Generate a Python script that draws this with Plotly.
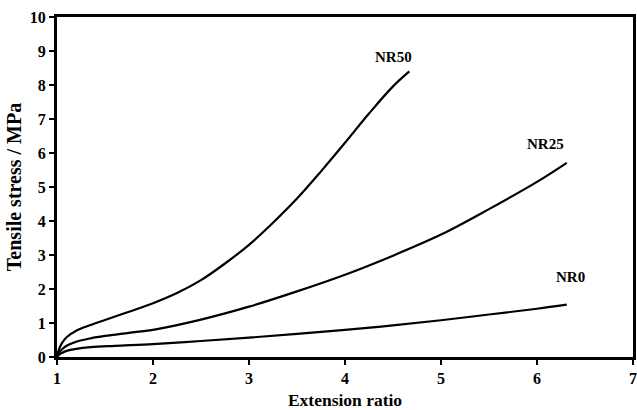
import plotly.graph_objects as go

nr50_x = [1.00, 1.02, 1.05, 1.10, 1.20, 1.35, 1.50, 1.75, 2.00, 2.25, 2.50, 2.75, 3.00, 3.25, 3.50, 3.75, 4.00, 4.25, 4.50, 4.67]
nr50_y = [0.00, 0.22, 0.40, 0.58, 0.77, 0.94, 1.09, 1.33, 1.58, 1.88, 2.26, 2.75, 3.30, 3.95, 4.66, 5.46, 6.30, 7.16, 7.96, 8.40]

nr25_x = [1.00, 1.02, 1.05, 1.10, 1.20, 1.35, 1.50, 1.75, 2.00, 2.50, 3.00, 3.50, 4.00, 4.50, 5.00, 5.50, 6.00, 6.31]
nr25_y = [0.00, 0.12, 0.22, 0.33, 0.45, 0.55, 0.62, 0.71, 0.80, 1.10, 1.48, 1.93, 2.42, 2.98, 3.60, 4.35, 5.15, 5.71]

nr0_x = [1.00, 1.02, 1.05, 1.10, 1.20, 1.35, 1.60, 2.00, 2.50, 3.00, 3.50, 4.00, 4.50, 5.00, 5.50, 6.00, 6.31]
nr0_y = [0.00, 0.06, 0.12, 0.18, 0.24, 0.29, 0.33, 0.38, 0.47, 0.57, 0.68, 0.80, 0.93, 1.08, 1.25, 1.42, 1.54]

x_ticks = [1, 2, 3, 4, 5, 6, 7]
y_ticks = [0, 1, 2, 3, 4, 5, 6, 7, 8, 9, 10]

labels = ["NR50", "NR25", "NR0"]
label_x = [4.50, 6.09, 6.35]
label_y = [8.81, 6.27, 2.36]

FONT = "Liberation Serif, Times New Roman, serif"

fig = go.Figure()
for xs, ys in [(nr50_x, nr50_y), (nr25_x, nr25_y), (nr0_x, nr0_y)]:
    fig.add_trace(go.Scatter(x=xs, y=ys, mode="lines",
                             line=dict(color="black", width=2.2, shape="spline", smoothing=1.0),
                             showlegend=False, hoverinfo="skip"))

for t, lx, ly in zip(labels, label_x, label_y):
    fig.add_annotation(x=lx, y=ly, text="<b>" + t + "</b>", showarrow=False,
                       font=dict(family=FONT, size=15, color="black"))

fig.update_layout(
    width=637, height=410,
    margin=dict(l=57, r=1, t=17, b=53),
    paper_bgcolor="white", plot_bgcolor="white",
    font=dict(family=FONT, color="black"),
)
fig.update_xaxes(range=[1, 7], tickmode="array", tickvals=x_ticks,
                 ticktext=["<b>%d</b>" % v for v in x_ticks],
                 showgrid=False, zeroline=False,
                 showline=True, linecolor="black", linewidth=3, mirror=True,
                 ticks="outside", ticklen=5, tickwidth=1.5, tickcolor="black",
                 tickfont=dict(family=FONT, size=16, color="black"),
                 title=dict(text="<b>Extension ratio</b>", standoff=8,
                            font=dict(family=FONT, size=17.5, color="black")))
fig.update_yaxes(range=[0, 10], tickmode="array", tickvals=y_ticks,
                 ticktext=["<b>%d</b>" % v for v in y_ticks],
                 showgrid=False, zeroline=False,
                 showline=True, linecolor="black", linewidth=3, mirror=True,
                 ticks="outside", ticklen=5, tickwidth=1.5, tickcolor="black",
                 tickfont=dict(family=FONT, size=16, color="black"),
                 title=dict(text="<b>Tensile stress / MPa</b>", standoff=3,
                            font=dict(family=FONT, size=20, color="black")))

fig.write_html("out.html")
